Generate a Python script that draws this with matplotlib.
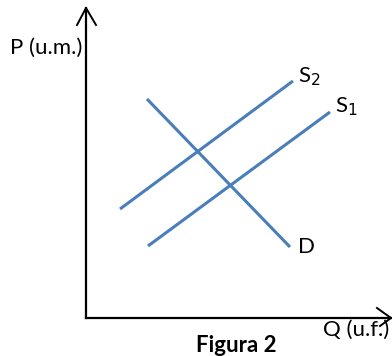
import matplotlib.pyplot as plt

# esquema oferta/procura (coordenadas em pixels da figura)
s2_x = [120, 293]
s2_y = [209, 81]
s1_x = [148, 330]
s1_y = [246, 112]
d_x = [147, 290]
d_y = [99, 247]

origin = (86, 318)
y_top = 8
x_right = 391

blue = '#4A7EBB'
fam = ['Lato', 'DejaVu Sans']
fs = 16

fig = plt.figure(figsize=(3.92, 3.56), dpi=100)
ax = fig.add_axes([0, 0, 1, 1])
ax.set_xlim(0, 392)
ax.set_ylim(356, 0)
ax.axis('off')

# eixos com setas abertas
ax.plot([origin[0], origin[0]], [origin[1], y_top], color='black', lw=1.6)
ax.plot([origin[0], x_right], [origin[1], origin[1]], color='black', lw=1.6)
ax.plot([77, origin[0], 96], [25, y_top, 25], color='black', lw=1.4)
ax.plot([377, x_right, 380], [308, origin[1], 326], color='black', lw=1.4)

ax.plot(s2_x, s2_y, color=blue, lw=2.2, solid_capstyle='butt')
ax.plot(s1_x, s1_y, color=blue, lw=2.2, solid_capstyle='butt')
ax.plot(d_x, d_y, color=blue, lw=2.2, solid_capstyle='butt')

ax.text(10, 48, 'P (u.m.)', fontsize=fs, family=fam, va='center', ha='left')
ax.text(298, 77, r'S$_2$', fontsize=fs, family=fam, va='center', ha='left')
ax.text(335, 107, r'S$_1$', fontsize=fs, family=fam, va='center', ha='left')
ax.text(298, 247, 'D', fontsize=fs, family=fam, va='center', ha='left')
ax.text(389, 330, 'Q (u.f.)', fontsize=fs, family=fam, va='center', ha='right')
ax.text(236, 345, 'Figura 2', fontsize=fs, family=fam, fontweight='bold',
        va='center', ha='center')

fig.savefig('out.png', dpi=100)
